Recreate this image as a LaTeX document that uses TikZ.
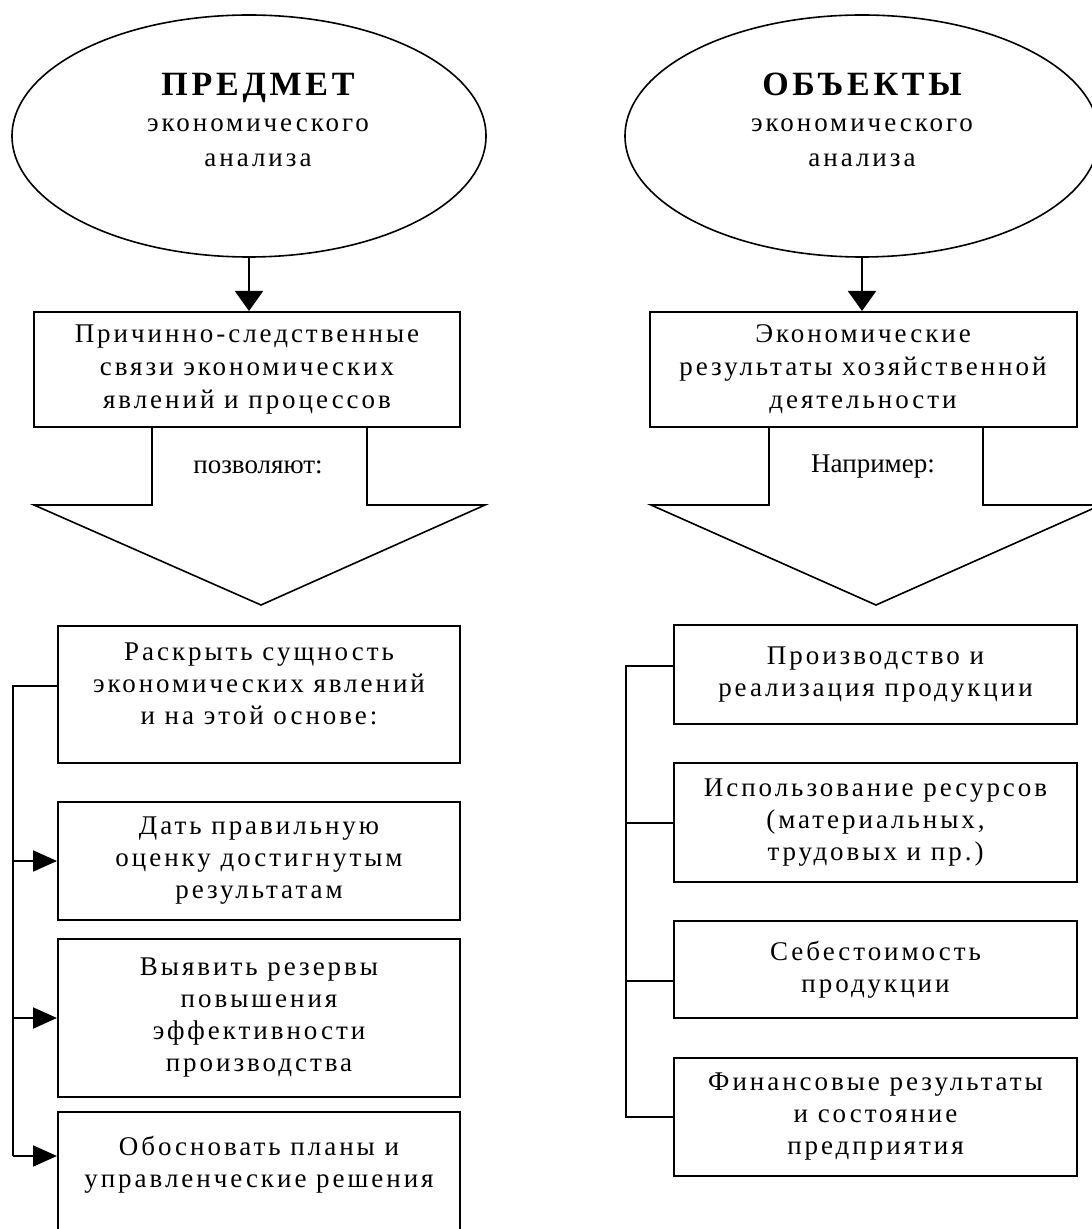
\documentclass[tikz,border=0pt]{standalone}
\usepackage{fontspec}
\setmainfont{Liberation Serif}[LetterSpace=11]
\usetikzlibrary{arrows.meta,shapes.geometric,positioning}
\newcommand{\headfont}{\fontsize{17}{17.8}\selectfont\bfseries}

\begin{document}
\begin{tikzpicture}[
  x=0.5pt, y=-0.5pt,
  goal/.style={ellipse, draw, line width=0.8pt, minimum width=237pt, minimum height=121pt,
    inner sep=0pt, align=center, text depth=16pt, font=\fontsize{13.5}{17.8}\selectfont},
  box/.style={rectangle, draw, line width=1pt, inner sep=0pt, align=center,
    font=\fontsize{13.5}{16}\selectfont},
  leftbox/.style={box, minimum width=201pt},
  rightbox/.style={box, minimum width=201.5pt},
  hint/.style={font=\fontsize{13.5}{16}\selectfont\addfontfeatures{LetterSpace=0}},
  link/.style={line width=1pt},
  bigarrow/.style={line width=0.8pt},
  down/.style={link, -{Triangle[length=10pt,width=14pt]}},
  into/.style={link, -{Triangle[length=12pt,width=10.5pt]}}
]
\useasboundingbox (0,0) rectangle (1091,1229);

% two ovals on top
\node[goal] (predmet) at (249,136) {\hspace*{9pt}{\headfont ПРЕДМЕТ}\\\hspace*{9pt}экономического\\\hspace*{9pt}анализа};
\node[goal] (obekty) at (862,136) {{\headfont ОБЪЕКТЫ}\\экономического\\анализа};

\node[box, minimum width=213pt, minimum height=57.5pt, font=\fontsize{13.5}{16.5}\selectfont] (svyazi) at (247,369.5)
  {Причинно-следственные\\связи экономических\\явлений и процессов};
\node[box, minimum width=213.5pt, minimum height=57.5pt, font=\fontsize{13.5}{16.5}\selectfont] (rezult) at (863,369.5)
  {Экономические\\результаты хозяйственной\\деятельности};

\draw[down] (predmet.south) -- (predmet.south |- svyazi.north);
\draw[down] (obekty.south) -- (obekty.south |- rezult.north);

% wide arrows
\draw[bigarrow] (152,427) -- (152,505) -- (34,505) -- (261,605) -- (485,505) -- (367,505) -- (367,427);
\draw[bigarrow] (769,427) -- (769,505) -- (651,505) -- (876,605) -- (1101,505) -- (983,505) -- (983,427);
\node[hint] (pozvolyayut) at (258,467) {позволяют:};
\node[hint] (naprimer) at (873,467) {Например:};

% left column
\node[leftbox, minimum height=68.5pt, text depth=11pt] (raskryt) at (259,694.5)
  {Раскрыть сущность\\экономических явлений\\и на этой основе:};
\node[leftbox, minimum height=59pt] (ocenka) at (259,861)
  {Дать правильную\\оценку достигнутым\\результатам};
\node[leftbox, minimum height=79pt] (rezervy) at (259,1018)
  {Выявить резервы\\повышения\\эффективности\\производства};
\node[leftbox, minimum height=64pt, text depth=14pt] (obosnovat) at (259,1176)
  {Обосновать планы и\\управленческие решения};

\coordinate (ltop) at (13,686);
\coordinate (lbot) at (13,1156);
\draw[link] (ltop -| raskryt.west) -- (ltop) -- (lbot);
\draw[into] (ltop |- ocenka.west) -- (ocenka.west);
\draw[into] (ltop |- rezervy.west) -- (rezervy.west);
\draw[into] (lbot) -- (lbot -| obosnovat.west);

% right column
\node[rightbox, minimum height=49.5pt] (proizv) at (875.5,674.5)
  {Производство и\\реализация продукции};
\node[rightbox, minimum height=59.5pt] (resursy) at (875.5,822.5)
  {Использование ресурсов\\(материальных,\\трудовых и пр.)};
\node[rightbox, minimum height=48.5pt] (sebest) at (875.5,969.5)
  {Себестоимость\\продукции};
\node[rightbox, minimum height=59pt] (finans) at (875.5,1117)
  {Финансовые результаты\\и состояние\\предприятия};

\coordinate (rtop) at (626,666);
\coordinate (rmid) at (626,981);
\coordinate (rbot) at (626,1117);
\draw[link] (rtop -| proizv.west) -- (rtop) -- (rbot) -- (finans.west);
\draw[link] (rtop |- resursy.west) -- (resursy.west);
\draw[link] (rmid) -- (rmid -| sebest.west);
\end{tikzpicture}
\end{document}
